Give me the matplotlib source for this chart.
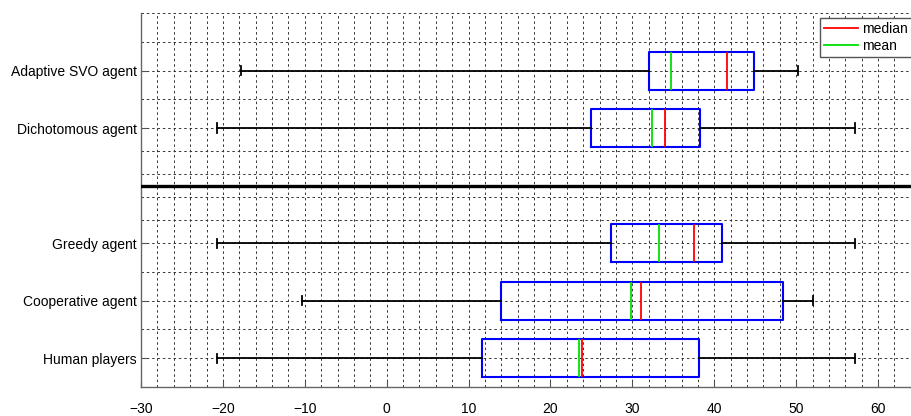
import matplotlib.pyplot as plt
from matplotlib.lines import Line2D

plt.rcParams['font.family'] = ['Liberation Sans', 'DejaVu Sans']

# --- dati ---
labels = ['Human players', 'Cooperative agent', 'Greedy agent',
          'Dichotomous agent', 'Adaptive SVO agent']
positions = [1, 2, 3, 5, 6]
whis_lo = [-20.7, -10.3, -20.7, -20.7, -17.8]
q1 = [11.6, 13.9, 27.4, 24.9, 32.0]
medians = [23.8, 31.0, 37.5, 34.0, 41.6]
means = [23.5, 29.8, 33.3, 32.4, 34.7]
q3 = [38.1, 48.4, 41.0, 38.2, 44.8]
whis_hi = [57.2, 52.0, 57.2, 57.2, 50.2]

xticks = list(range(-30, 61, 10))
ygrid_minor = [1.5, 2.5, 3.4, 3.8, 4.2, 4.6, 5.5, 6.5, 7.0]
separator = 4

stats = []
for i, lab in enumerate(labels):
    stats.append(dict(label=lab, whislo=whis_lo[i], q1=q1[i], med=medians[i],
                      mean=means[i], q3=q3[i], whishi=whis_hi[i], fliers=[]))

fig = plt.figure(figsize=(9.11, 4.16), dpi=100)
ax = fig.add_axes([141 / 911, 29 / 416, 778 / 911, 374 / 416])

ax.bxp(stats, positions=positions, orientation='horizontal', widths=0.66,
       capwidths=0.16, showmeans=True, meanline=True,
       boxprops=dict(color='#0000ff', linewidth=1.5),
       whiskerprops=dict(color='black', linewidth=1.3),
       capprops=dict(color='black', linewidth=1.3),
       medianprops=dict(color='#ff0000', linewidth=1.3),
       meanprops=dict(color='#00e000', linewidth=1.3, linestyle='-'))

# linea di separazione
ax.axhline(separator, color='black', linewidth=2.4, zorder=3)

ax.set_xlim(-30, 65)
ax.set_ylim(0.5, 7)
ax.set_xticks(xticks)
ax.set_xticks(range(-30, 65, 2), minor=True)
ax.set_yticks(positions)
ax.set_yticklabels(labels)
ax.set_yticks(ygrid_minor, minor=True)

ax.grid(True, which='both', linestyle=(0, (2.5, 3)), color='#333333',
        linewidth=0.7)
ax.set_axisbelow(True)

ax.tick_params(which='major', direction='in', length=4, labelsize=10,
               color='#555555')
ax.tick_params(axis='x', which='major', pad=11)
ax.tick_params(axis='y', which='major', pad=3)
ax.tick_params(which='minor', length=0)

for side in ['top', 'right']:
    ax.spines[side].set_visible(False)
for side in ['left', 'bottom']:
    ax.spines[side].set_color('#666666')
    ax.spines[side].set_linewidth(1.0)

handles = [Line2D([], [], color='#ff0000', linewidth=1.3),
           Line2D([], [], color='#00e000', linewidth=1.3)]
leg = fig.legend(handles, ['median', 'mean'], loc='upper left',
                 bbox_to_anchor=(820 / 911, 1 - 18 / 416), fontsize=10,
                 fancybox=False, framealpha=1, edgecolor='#555555',
                 handlelength=2.4, handletextpad=0.3, borderpad=0.3,
                 labelspacing=0.2, borderaxespad=0)

fig.savefig('out.png', dpi=100)
